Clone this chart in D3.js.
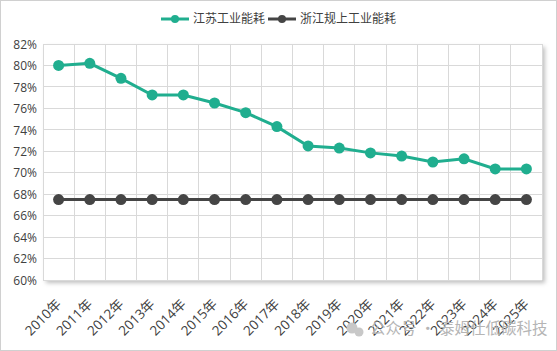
<!DOCTYPE html>
<html>
<head>
  <meta charset="utf-8">
  <script src="https://d3js.org/d3.v7.min.js"></script>
  <style>
    body { margin: 0; background: #fff; font-family: "Noto Sans CJK SC", "Open Sans", sans-serif; }
    .grid line { stroke: #d9d9d9; stroke-width: 1; shape-rendering: crispEdges; }
    .axis text { font-size: 12px; fill: #404040; font-family: "Open Sans", "Noto Sans CJK SC", sans-serif; }
    .axis path, .axis line { display: none; }
    .legend text { font-size: 12px; fill: #404040; }
  </style>
</head>
<body>
  <div id="chart"></div>
  <script>
    const years = ["2010年","2011年","2012年","2013年","2014年","2015年","2016年","2017年",
                   "2018年","2019年","2020年","2021年","2022年","2023年","2024年","2025年"];
    const jiangsu = [80.0, 80.2, 78.8, 77.25, 77.25, 76.5, 75.6, 74.3, 72.5, 72.3, 71.85, 71.55, 71.0, 71.3, 70.35, 70.35];
    const zhejiang = [67.5, 67.5, 67.5, 67.5, 67.5, 67.5, 67.5, 67.5, 67.5, 67.5, 67.5, 67.5, 67.5, 67.5, 67.5, 67.5];
    const yTicks = [60, 62, 64, 66, 68, 70, 72, 74, 76, 78, 80, 82];
    const seriesNames = ["江苏工业能耗", "浙江规上工业能耗"];
    const colors = ["#20ae8f", "#454545"];

    const W = 557, H = 351;
    const margin = {top: 44, right: 15, bottom: 71, left: 43};
    const width = W - margin.left - margin.right;
    const height = H - margin.top - margin.bottom;

    const svg = d3.select("#chart").append("svg")
      .attr("width", W).attr("height", H);

    // outer frame
    svg.append("rect")
      .attr("x", 0.5).attr("y", 0.5).attr("width", W - 1).attr("height", H - 1)
      .attr("fill", "#fff").attr("stroke", "#d0d0d0");

    const defs = svg.append("defs");
    const f = defs.append("filter").attr("id", "shadow")
      .attr("x", "-5%").attr("y", "-5%").attr("width", "115%").attr("height", "115%");
    f.append("feDropShadow").attr("dx", 3).attr("dy", 3).attr("stdDeviation", 2)
      .attr("flood-color", "#000").attr("flood-opacity", 0.25);

    const g = svg.append("g").attr("transform", `translate(${margin.left},${margin.top})`);

    const x = d3.scaleBand().domain(years).range([0, width]);
    const y = d3.scaleLinear().domain([60, 82]).range([height, 0]);

    // plot area with shadow
    g.append("rect").attr("width", width).attr("height", height)
      .attr("fill", "#fff").attr("filter", "url(#shadow)");

    // grid
    const grid = g.append("g").attr("class", "grid");
    grid.selectAll(".h").data(yTicks).join("line")
      .attr("x1", 0).attr("x2", width)
      .attr("y1", d => y(d)).attr("y2", d => y(d));
    grid.selectAll(".v").data(years.concat(["end"])).join("line")
      .attr("x1", (d, i) => i < years.length ? x(d) : width)
      .attr("x2", (d, i) => i < years.length ? x(d) : width)
      .attr("y1", 0).attr("y2", height);

    // axes
    g.append("g").attr("class", "axis")
      .call(d3.axisLeft(y).tickValues(yTicks).tickFormat(d => d + "%").tickSize(0).tickPadding(6))
      .selectAll("text").attr("dy", "0.35em");

    // watermark (under the labels)
    const wm = svg.append("g").attr("transform", "translate(346,329)");
    wm.append("circle").attr("cx", 6).attr("cy", -1).attr("r", 5.5).attr("fill", "#c8c8c8");
    wm.append("circle").attr("cx", 13).attr("cy", 3).attr("r", 4.5).attr("fill", "#c8c8c8");
    wm.append("text").attr("x", 24).attr("dy", "0.35em")
      .attr("font-size", 15.5).attr("fill", "#b5b5b5")
      .text("公众号 · 泰姆仕低碳科技");

    g.append("g").attr("class", "axis")
      .attr("transform", `translate(0,${height})`)
      .call(d3.axisBottom(x).tickSize(0))
      .selectAll("text")
        .style("font-size", "13.5px")
        .attr("text-anchor", "end")
        .attr("y", 0).attr("dy", 0)
        .attr("transform", "translate(3.5,25) rotate(-45)");

    // lines
    const line = d3.line().x((d, i) => x(years[i]) + x.bandwidth() / 2).y(d => y(d));
    [jiangsu, zhejiang].forEach((s, k) => {
      g.append("path").datum(s)
        .attr("fill", "none").attr("stroke", colors[k]).attr("stroke-width", 3)
        .attr("d", line);
      g.selectAll(".m" + k).data(s).join("circle")
        .attr("cx", (d, i) => x(years[i]) + x.bandwidth() / 2)
        .attr("cy", d => y(d)).attr("r", 5.5)
        .attr("fill", colors[k]);
    });

    // legend
    const legend = svg.append("g").attr("class", "legend");
    const lx = [161, 268];
    seriesNames.forEach((n, k) => {
      const lg = legend.append("g").attr("transform", `translate(${lx[k]},19)`);
      lg.append("line").attr("x1", 0).attr("x2", 28).attr("stroke", colors[k]).attr("stroke-width", 3);
      lg.append("circle").attr("cx", 14).attr("r", 4).attr("fill", colors[k]);
      lg.append("text").attr("x", 32).attr("dy", "0.35em").text(n);
    });
  </script>
</body>
</html>
